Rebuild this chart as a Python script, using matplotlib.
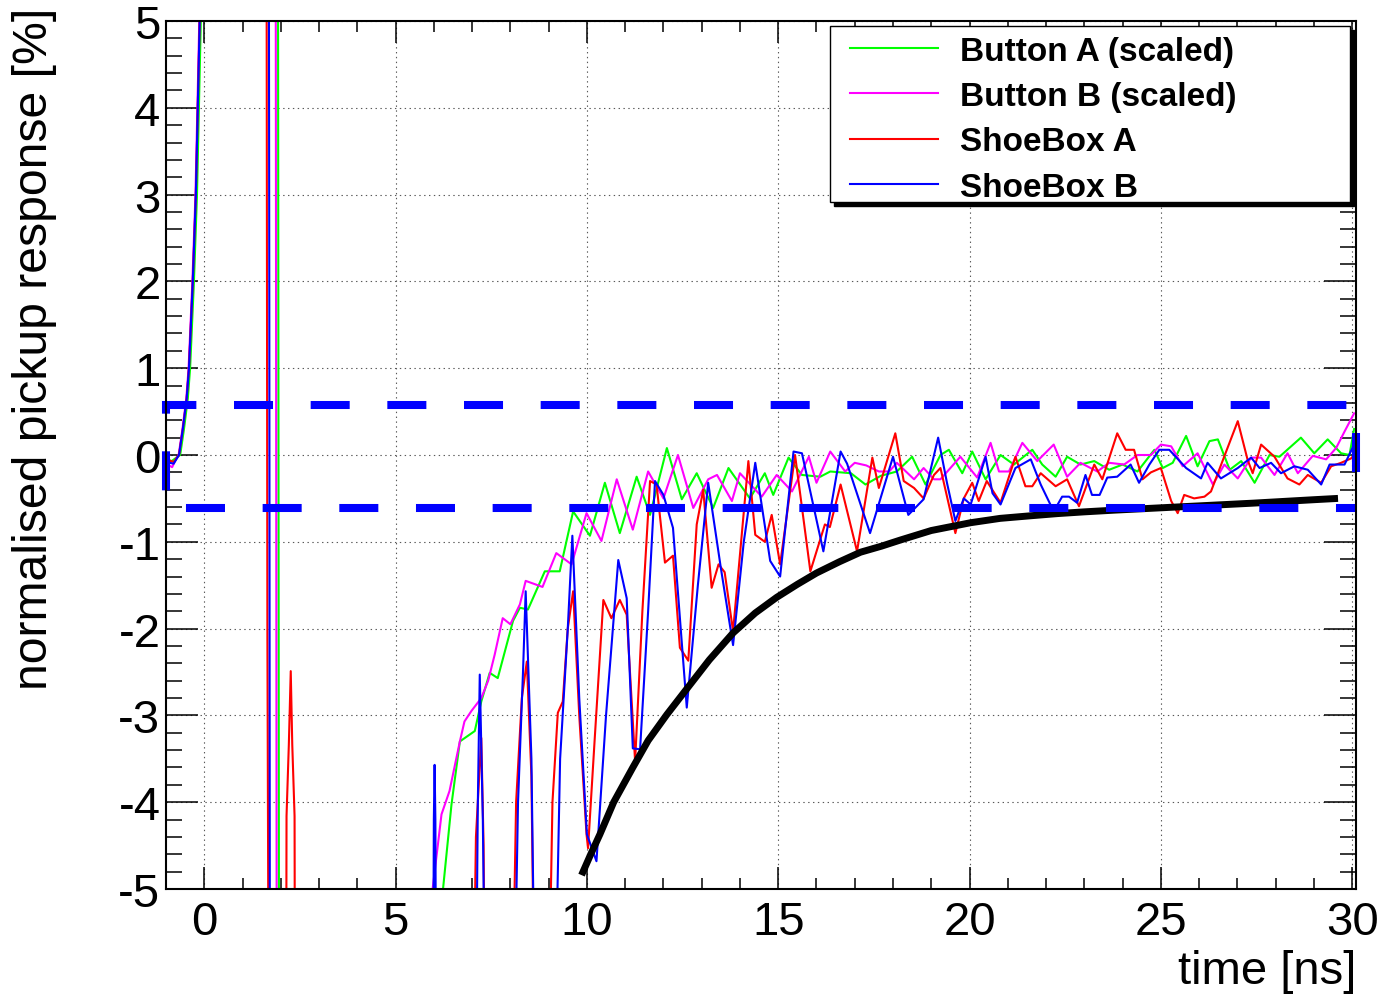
import numpy as np
import matplotlib.pyplot as plt
from matplotlib.ticker import MultipleLocator
from matplotlib.patches import Rectangle

plt.rcParams['font.family'] = ['Liberation Sans', 'DejaVu Sans']
plt.rcParams['axes.unicode_minus'] = False
plt.rcParams['lines.scale_dashes'] = False

######### data: (time [ns], response [%]) #########
# values far off the scale (the big pulse) are just set to +-9
btn_a = [(-1.0, -0.05), (-0.85, -0.07), (-0.7, -0.02), (-0.63, 0.0), (-0.53, 0.3), (-0.43, 0.65),
         (-0.37, 1.0), (-0.27, 2.0), (-0.19, 3.0), (-0.14, 4.0), (-0.09, 5.0), (0.0, 7.5), (1.0, 9.0),
         (1.92, 9.0), (1.96, -9.0), (6.1, -9.0), (6.24, -5.0), (6.46, -4.03), (6.68, -3.3), (7.07, -3.18),
         (7.24, -2.84), (7.46, -2.51), (7.67, -2.57), (8.07, -1.91), (8.25, -1.76), (8.46, -1.78),
         (8.9, -1.34), (9.29, -1.34), (9.64, -0.65), (10.08, -0.93), (10.47, -0.32), (10.86, -0.9),
         (11.3, -0.25), (11.65, -0.69), (12.09, 0.08), (12.48, -0.51), (12.87, -0.21), (13.3, -0.61),
         (13.7, -0.15), (14.26, -0.5), (14.65, -0.21), (14.87, -0.46), (15.27, -0.03), (15.62, -0.23),
         (16.1, -0.25), (16.36, -0.19), (16.9, -0.21), (17.28, -0.34), (17.68, -0.24), (18.1, -0.19),
         (18.5, -0.02), (18.85, -0.34), (19.24, 0.0), (19.46, 0.06), (19.81, -0.21), (20.07, 0.04),
         (20.42, -0.28), (20.81, 0.0), (21.16, -0.11), (21.64, 0.06), (21.9, -0.11), (22.25, -0.25),
         (22.55, -0.02), (22.9, -0.11), (23.26, -0.07), (23.65, -0.17), (24.0, -0.11), (24.39, -0.19),
         (24.83, 0.06), (25.05, -0.15), (25.31, -0.09), (25.66, 0.22), (25.96, -0.13), (26.27, 0.16),
         (26.49, 0.18), (26.8, -0.17), (27.1, -0.07), (27.45, -0.32), (27.84, 0.0), (28.1, -0.02),
         (28.66, 0.2), (29.01, 0.02), (29.36, 0.18), (29.71, 0.02), (29.93, 0.0), (30.05, 0.3)]

btn_b = [(-1.0, -0.1), (-0.84, -0.14), (-0.72, -0.03), (-0.67, 0.0), (-0.57, 0.3), (-0.47, 0.65),
         (-0.41, 1.0), (-0.31, 2.0), (-0.23, 3.0), (-0.18, 4.0), (-0.13, 5.0), (0.0, 7.8), (1.0, 9.0),
         (1.86, 9.0), (1.90, -9.0), (5.9, -9.0), (5.97, -4.99), (6.2, -4.14), (6.41, -3.87), (6.68, -3.3),
         (6.8, -3.07), (6.98, -2.95), (7.24, -2.8), (7.42, -2.6), (7.59, -2.3), (7.8, -1.88), (8.0, -1.95),
         (8.25, -1.72), (8.4, -1.45), (8.84, -1.52), (9.2, -1.13), (9.6, -1.26), (9.99, -0.67),
         (10.38, -0.99), (10.78, -0.28), (11.2, -0.86), (11.6, -0.19), (12.0, -0.5), (12.38, 0.0),
         (12.78, -0.61), (13.17, -0.28), (13.4, -0.23), (13.79, -0.53), (14.0, -0.21), (14.57, -0.48),
         (14.96, -0.23), (15.36, -0.42), (15.8, -0.02), (16.0, -0.32), (16.36, 0.04), (16.75, -0.19),
         (17.0, -0.09), (17.3, -0.12), (17.63, -0.19), (17.9, -0.19), (18.1, -0.09), (18.55, -0.28),
         (18.8, -0.15), (19.07, -0.28), (19.24, -0.28), (19.76, -0.02), (20.2, -0.26), (20.55, 0.14),
         (20.77, -0.19), (21.03, -0.19), (21.38, 0.14), (21.77, -0.07), (22.2, 0.12), (22.55, -0.25),
         (22.9, -0.09), (23.34, -0.19), (23.65, -0.09), (24.04, -0.11), (24.39, 0.0), (24.74, 0.0),
         (25.0, 0.12), (25.27, 0.1), (25.57, -0.13), (25.96, 0.02), (26.36, -0.34), (26.66, -0.11),
         (27.01, -0.27), (27.36, -0.03), (27.62, -0.03), (27.97, -0.23), (28.31, 0.02), (28.58, -0.21),
         (28.97, -0.01), (29.32, -0.05), (29.58, 0.08), (29.8, 0.27), (30.05, 0.48)]

shoe_a = [(-1.0, -0.05), (-0.8, -0.08), (-0.66, 0.0), (-0.56, 0.3), (-0.46, 0.65), (-0.40, 1.0),
          (-0.30, 2.0), (-0.22, 3.0), (-0.17, 4.0), (-0.12, 5.0), (0.0, 7.5), (1.0, 9.0), (1.62, 9.0),
          (1.65, -2.1), (1.70, -9.0), (2.13, -9.0), (2.15, -4.16), (2.21, -3.34), (2.26, -2.49),
          (2.30, -3.34), (2.36, -4.16), (2.38, -9.0), (5.96, -9.0), (6.02, -4.86), (6.08, -9.0),
          (6.95, -9.0), (7.1, -4.4), (7.24, -3.26), (7.3, -4.5), (7.38, -9.0), (7.95, -9.0), (8.15, -4.0),
          (8.3, -2.8), (8.43, -2.38), (8.55, -3.7), (8.7, -9.0), (8.9, -9.0), (9.1, -4.0), (9.24, -2.97),
          (9.37, -2.84), (9.5, -2.0), (9.64, -1.57), (9.8, -3.0), (9.99, -4.37), (10.03, -4.53),
          (10.2, -3.3), (10.43, -1.67), (10.64, -1.88), (10.86, -1.67), (11.04, -1.84), (11.26, -3.53),
          (11.45, -1.8), (11.65, -0.3), (11.82, -0.34), (12.04, -1.24), (12.25, -1.16), (12.43, -2.22),
          (12.65, -2.37), (12.87, -0.8), (13.04, -0.4), (13.26, -1.53), (13.44, -1.26), (13.6, -1.35),
          (13.82, -2.03), (14.22, -0.07), (14.4, -0.92), (14.65, -1.0), (14.83, -0.69), (15.05, -1.26),
          (15.44, 0.0), (15.84, -1.34), (16.22, -0.8), (16.35, -0.83), (16.63, -0.34), (17.06, -1.11),
          (17.46, -0.03), (17.63, -0.38), (18.06, 0.25), (18.28, -0.3), (18.55, -0.38), (18.8, -0.5),
          (19.07, -0.23), (19.24, -0.15), (19.63, -0.9), (19.85, -0.5), (20.07, -0.32), (20.24, -0.53),
          (20.45, -0.3), (20.81, -0.55), (21.2, -0.02), (21.46, -0.36), (21.64, -0.36), (21.86, -0.21),
          (22.25, -0.36), (22.55, -0.28), (22.86, -0.59), (23.26, -0.11), (23.47, -0.28), (23.86, 0.25),
          (24.08, 0.06), (24.3, 0.06), (24.52, -0.28), (24.74, -0.2), (25.0, -0.15), (25.27, -0.53),
          (25.44, -0.67), (25.61, -0.46), (25.87, -0.5), (26.14, -0.48), (26.31, -0.42), (26.62, -0.06),
          (27.01, 0.39), (27.27, -0.06), (27.4, -0.21), (27.62, 0.12), (27.97, -0.02), (28.31, -0.27),
          (28.62, -0.34), (28.84, -0.23), (29.19, -0.32), (29.45, -0.13), (29.71, -0.09), (29.97, -0.04),
          (30.05, 0.0)]

shoe_b = [(-1.0, -0.08), (-0.8, -0.1), (-0.66, 0.0), (-0.56, 0.3), (-0.46, 0.65), (-0.40, 1.0),
          (-0.30, 2.0), (-0.22, 3.0), (-0.17, 4.0), (-0.12, 5.0), (0.0, 7.5), (1.0, 9.0), (1.68, 9.0),
          (1.70, 1.7), (1.72, -9.0), (5.96, -9.0), (6.0, -4.2), (6.02, -3.57), (6.04, -4.2), (6.08, -9.0),
          (7.05, -9.0), (7.15, -4.0), (7.2, -2.53), (7.28, -4.2), (7.41, -9.0), (8.0, -9.0), (8.2, -4.0),
          (8.33, -2.5), (8.4, -1.57), (8.55, -3.5), (8.72, -9.0), (9.05, -9.0), (9.3, -3.5), (9.5, -2.0),
          (9.62, -0.93), (9.8, -2.8), (10.0, -4.37), (10.25, -4.68), (10.5, -3.0), (10.82, -1.21),
          (11.04, -1.65), (11.2, -3.38), (11.39, -3.39), (11.6, -1.8), (11.78, -0.3), (12.0, -0.46),
          (12.25, -0.84), (12.61, -2.91), (12.9, -1.5), (13.17, -0.32), (13.5, -1.3), (13.82, -2.19),
          (14.1, -1.0), (14.4, -0.09), (14.79, -1.22), (15.05, -1.4), (15.4, 0.04), (15.62, 0.02),
          (16.18, -1.11), (16.63, 0.04), (16.8, -0.1), (17.4, -0.9), (18.0, -0.02), (18.4, -0.69),
          (18.8, -0.51), (19.18, 0.2), (19.41, -0.32), (19.63, -0.76), (19.85, -0.5), (20.03, -0.57),
          (20.42, -0.02), (20.6, -0.44), (20.81, -0.57), (21.2, -0.15), (21.6, -0.05), (21.86, -0.34),
          (22.2, -0.65), (22.42, -0.48), (22.6, -0.48), (22.81, -0.55), (23.03, -0.23), (23.2, -0.46),
          (23.4, -0.46), (23.6, -0.26), (23.86, -0.25), (24.21, -0.11), (24.43, -0.32), (24.7, -0.11),
          (24.96, 0.06), (25.22, 0.06), (25.66, -0.15), (26.05, -0.27), (26.22, -0.09), (26.57, -0.27),
          (27.01, -0.15), (27.36, -0.03), (27.58, -0.15), (27.88, -0.09), (28.14, -0.21), (28.49, -0.13),
          (28.84, -0.17), (29.19, -0.34), (29.41, -0.11), (29.8, -0.11), (30.05, 0.12)]

# black envelope curve
fit_t = [9.86, 10.1, 10.34, 10.7, 11.2, 11.6, 12.09, 12.6, 13.2, 13.82, 14.4, 14.96, 15.5, 16.0,
         16.6, 17.15, 17.7, 18.19, 19.0, 20.03, 20.8, 21.6, 22.3, 23.0, 23.8, 24.7, 25.6, 26.5,
         27.4, 28.2, 29.0, 29.63]
fit_v = [-4.84, -4.6, -4.37, -4.0, -3.6, -3.29, -2.99, -2.70, -2.36, -2.05, -1.82, -1.64, -1.49,
         -1.36, -1.23, -1.12, -1.05, -0.98, -0.87, -0.78, -0.73, -0.70, -0.675, -0.655, -0.635,
         -0.615, -0.595, -0.575, -0.555, -0.535, -0.515, -0.50]

band = (-0.61, 0.58)   # dashed box, lower / upper edge
x_range = (-1.0, 30.1)
y_range = (-5.0, 5.0)

series = [("Button A (scaled)", btn_a, "#00ff00"),
          ("Button B (scaled)", btn_b, "#ff00ff"),
          ("ShoeBox A", shoe_a, "#ff0000"),
          ("ShoeBox B", shoe_b, "#0000ff")]

fig = plt.figure(figsize=(13.83, 9.95), dpi=100)
ax = fig.add_axes([166/1383, 1 - 890/995, 1190/1383, 868/995])

for name, pts, col in series:
    t, v = zip(*pts)
    ax.plot(t, v, color=col, lw=1.5, label=name)

ax.plot(fit_t, fit_v, color='black', lw=5.0, solid_capstyle='butt', solid_joinstyle='round')

# dashed box, drawn from the bottom right corner: up, left, down, right
bx = [x_range[1], x_range[1], x_range[0], x_range[0], x_range[1]]
by = [band[0], band[1], band[1], band[0], band[0]]
ax.plot(bx, by, color='#0000ff', lw=5.8, linestyle=(29.3, (28.1, 27.1)),
        dash_capstyle='butt', dash_joinstyle='miter', clip_on=False)

ax.set_xlim(*x_range)
ax.set_ylim(*y_range)
ax.xaxis.set_major_locator(MultipleLocator(5))
ax.xaxis.set_minor_locator(MultipleLocator(1))
ax.yaxis.set_major_locator(MultipleLocator(1))
ax.yaxis.set_minor_locator(MultipleLocator(0.2))
ax.tick_params(which='both', direction='in', top=True, right=True, width=1.1, colors='black')
ax.tick_params(axis='x', which='major', length=16, pad=8, labelsize=34)
ax.tick_params(axis='x', which='minor', length=8)
ax.tick_params(axis='y', which='major', length=23, pad=4, labelsize=34)
ax.tick_params(axis='y', which='minor', length=11.5)
for s in ax.spines.values():
    s.set_linewidth(1.5)

ax.set_axisbelow(True)
ax.grid(True, which='major', color='0.35', linestyle=(0, (1, 2.5)), linewidth=0.8)

ax.set_xlabel('time [ns]', fontsize=34, loc='right')
ax.xaxis.set_label_coords(1.0, -0.0686)
ax.set_ylabel('normalised pickup response [%]', fontsize=34.7, loc='top')
ax.yaxis.set_label_coords(-0.092, 1.0165)

# legend: frame + black shadow drawn by hand, entries without frame
lx0, lx1, ly0, ly1 = 0.558, 0.995, 0.7915, 0.9942
ax.add_patch(Rectangle((lx0 + 0.0034, ly0 - 0.0046), lx1 - lx0, ly1 - ly0, transform=ax.transAxes,
                       facecolor='black', edgecolor='black', zorder=5, clip_on=False))
ax.add_patch(Rectangle((lx0, ly0), lx1 - lx0, ly1 - ly0, transform=ax.transAxes,
                       facecolor='white', edgecolor='black', lw=1.0, zorder=5.1, clip_on=False))
leg = ax.legend(loc='upper left', bbox_to_anchor=(0.5748, 0.983),
                prop={'weight': 'bold', 'size': 24}, frameon=False,
                borderaxespad=0, borderpad=0, handlelength=2.64, handletextpad=0.66,
                labelspacing=0.43)
leg.set_zorder(6)

fig.savefig('out.png', dpi=100)
